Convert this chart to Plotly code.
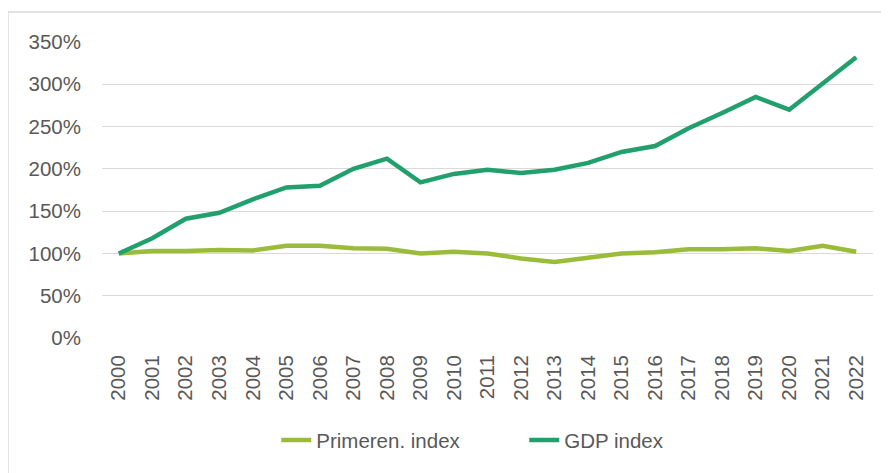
import plotly.graph_objects as go

years = [str(y) for y in range(2000, 2023)]
primeren_index = [1.00, 1.03, 1.03, 1.04, 1.035, 1.09, 1.09, 1.06, 1.055, 1.00, 1.02,
                  1.00, 0.94, 0.90, 0.95, 1.00, 1.015, 1.05, 1.05, 1.06, 1.03, 1.09, 1.02]
gdp_index = [1.00, 1.18, 1.41, 1.48, 1.64, 1.78, 1.80, 2.00, 2.12, 1.84, 1.94,
             1.99, 1.95, 1.99, 2.07, 2.20, 2.27, 2.48, 2.66, 2.85, 2.70, 3.01, 3.32]
y_ticks = [0, 0.5, 1.0, 1.5, 2.0, 2.5, 3.0, 3.5]

font_family = "Liberation Sans, Arial, sans-serif"
text_color = "#595959"
fs = 20.5

fig = go.Figure()
fig.add_trace(go.Scatter(x=years, y=primeren_index, mode="lines", name="Primeren. index",
                         line=dict(color="#9BBB3B", width=4.5)))
fig.add_trace(go.Scatter(x=years, y=gdp_index, mode="lines", name="GDP index",
                         line=dict(color="#21A06E", width=4.5)))

fig.update_layout(
    width=881, height=465,
    margin=dict(l=94, r=16, t=34, b=135),
    paper_bgcolor="white", plot_bgcolor="white",
    font=dict(family=font_family, size=fs, color=text_color),
    showlegend=True,
    legend=dict(orientation="h", x=0.226, xanchor="left", y=-0.345, yanchor="middle",
                entrywidth=203, entrywidthmode="pixels",
                font=dict(size=fs, color=text_color), tracegroupgap=0),
    shapes=[dict(type="rect", xref="paper", yref="paper",
                 x0=-0.1219, x1=1.04, y0=-0.5, y1=1.1014,
                 line=dict(color="#D9D9D9", width=1.3), fillcolor="rgba(0,0,0,0)", layer="below")],
)
fig.update_xaxes(type="category", range=[-0.5, 22.5], tickangle=-90, showgrid=False,
                 showline=False, zeroline=False, automargin=False,
                 ticks="", ticklabelstandoff=12, tickfont=dict(size=fs, color=text_color))
fig.update_yaxes(range=[0, 3.5], tickvals=y_ticks, tickformat=".0%", showgrid=True,
                 gridcolor="#D9D9D9", gridwidth=1.3, zeroline=False, showline=False, ticks="",
                 automargin=False,
                 ticklabelstandoff=20, tickfont=dict(size=fs, color=text_color))

fig.write_html("out.html")
